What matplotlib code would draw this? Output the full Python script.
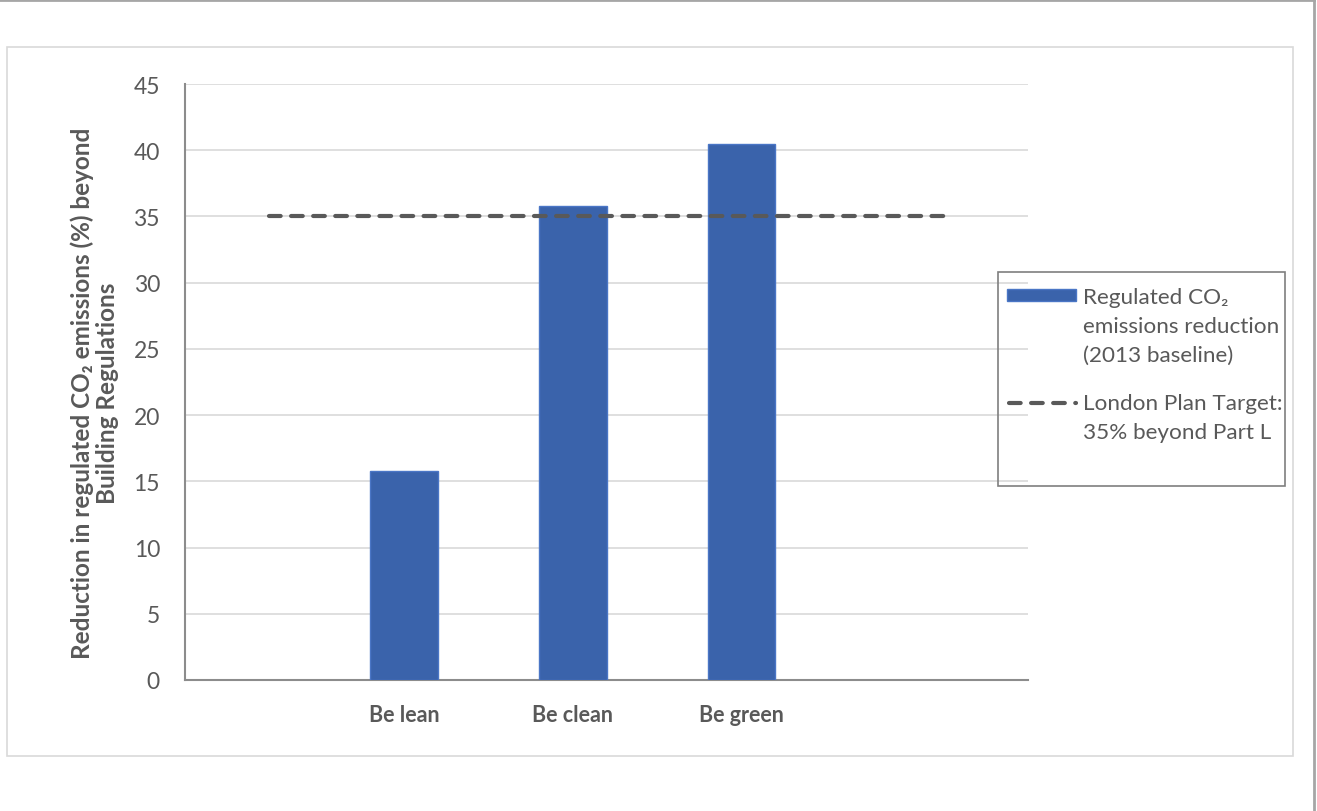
import matplotlib
matplotlib.use('Agg')
import matplotlib.pyplot as plt
from matplotlib.patches import Rectangle
from matplotlib.lines import Line2D

# -- data -- #
categories = ["", "Be lean", "Be clean", "Be green", ""]
bar_labels = ["Be lean", "Be clean", "Be green"]
reduction = [15.8, 35.8, 40.5]
target = [35, 35, 35, 35, 35]
legend_labels = ["Regulated CO\u2082\nemissions reduction\n(2013 baseline)",
                 "London Plan Target:\n35% beyond Part L"]

plt.rcParams['font.family'] = ['Lato', 'DejaVu Sans']

BLUE = '#3a63ab'
BLUE_EDGE = '#4a76c6'
DARK = '#595959'

W, H = 1317, 812
fig = plt.figure(figsize=(W / 100, H / 100), dpi=100)


def fx(px):
    return px / W


def fy(py):
    return 1 - py / H


# axes placed in pixel terms of the reference
ax = fig.add_axes([fx(185), fy(681), fx(1028 - 185), (681 - 85) / H])

# category slots 0..4, bars sit left of the slot centre (clustered look)
bar_x = [i - 0.2 for i in range(1, 4)]
ax.bar(bar_x, reduction, width=0.4, color=BLUE, edgecolor=BLUE_EDGE, linewidth=1, zorder=3)
ax.plot(range(len(categories)), target, color=DARK, linewidth=3, dashes=(2.8, 2.5),
        dash_capstyle='round', zorder=4)

ax.set_xlim(-0.5, 4.5)
ax.set_ylim(0, 45)
ax.set_yticks(range(0, 46, 5))
ax.set_xticks(bar_x)
ax.set_xticklabels(bar_labels, fontsize=15.5, fontweight='bold', color=DARK)
ax.tick_params(axis='x', length=0, pad=17)
ax.tick_params(axis='y', length=0, pad=18, labelsize=16.5, labelcolor=DARK)
ax.grid(axis='y', color='#d9d9d9', linewidth=1.2, zorder=0)
for s in ['top', 'right']:
    ax.spines[s].set_visible(False)
for s in ['left', 'bottom']:
    ax.spines[s].set_color('#8c8c8c')
    ax.spines[s].set_linewidth(1.5)

fig.text(fx(95), fy(393),
         "Reduction in regulated CO\u2082 emissions (%) beyond\nBuilding Regulations",
         rotation=90, ha='center', va='center', fontsize=17.5, fontweight='bold',
         color=DARK, linespacing=1.12)

# -- legend drawn by hand so the keys line up with the first text line -- #
fig.add_artist(Rectangle((fx(998), fy(487)), fx(1285 - 998), (487 - 273) / H,
                         transform=fig.transFigure, fill=False, edgecolor='#7f7f7f', linewidth=1.2))
fig.add_artist(Rectangle((fx(1007), fy(302)), fx(1076 - 1007), 12 / H,
                         transform=fig.transFigure, facecolor=BLUE, edgecolor=BLUE_EDGE, linewidth=1))
fig.add_artist(Line2D([fx(1009), fx(1076)], [fy(404), fy(404)], transform=fig.transFigure,
                      color=DARK, linewidth=3, dashes=(2.8, 2.5), dash_capstyle='round'))
fig.text(fx(1083), fy(288), legend_labels[0], ha='left', va='top', fontsize=16.2,
         color=DARK, linespacing=1.55)
fig.text(fx(1083), fy(394), legend_labels[1], ha='left', va='top', fontsize=16.2,
         color=DARK, linespacing=1.55)

# chart area frame and outer border
fig.add_artist(Rectangle((fx(7), fy(757)), fx(1293 - 7), (757 - 48) / H,
                         transform=fig.transFigure, fill=False, edgecolor='#d9d9d9', linewidth=1.2))
fig.add_artist(Line2D([0, fx(1314)], [fy(0.5), fy(0.5)], transform=fig.transFigure,
                      color='#a6a6a6', linewidth=2))
fig.add_artist(Line2D([fx(1314), fx(1314)], [0, 1], transform=fig.transFigure,
                      color='#a6a6a6', linewidth=2))

fig.savefig('out.png', dpi=100)
